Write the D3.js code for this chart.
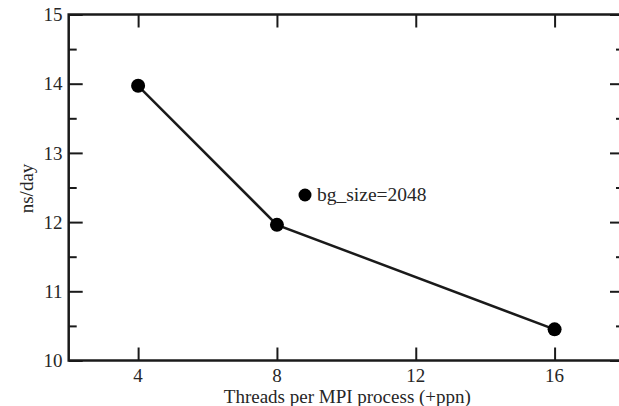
<!DOCTYPE html>
<html>
<head>
<meta charset="utf-8">
<script src="https://cdn.jsdelivr.net/npm/d3@7"></script>
<style>
  html, body { margin: 0; padding: 0; background: #fff; }
  svg { display: block; }
  text { font-family: "Liberation Serif", "DejaVu Serif", serif; fill: #262626; }
</style>
</head>
<body>
<svg id="chart" width="619" height="406"></svg>
<script>
const threads = [4, 8, 16];
const nsPerDay = [13.97, 11.96, 10.45];
const xTicks = [4, 8, 12, 16];
const yTicks = [10, 11, 12, 13, 14, 15];
const yMinorTicks = [10.5, 11.5, 12.5, 13.5, 14.5];
const seriesName = "bg_size=2048";
const xTitle = "Threads per MPI process (+ppn)";
const yTitle = "ns/day";

const svg = d3.select("#chart");
const L = 68.7, R = 624, T = 14.5, B = 360.5;
const x = d3.scaleLinear().domain([2, 18]).range([L, R]);
const y = d3.scaleLinear().domain([10, 15]).range([B, T]);

const ink = "#1a1a1a";
const majorLen = 13, minorLen = 8;

function styleAxis(g) {
  g.select(".domain").remove();
  g.selectAll(".tick line").attr("stroke", ink).attr("stroke-width", 2);
  g.selectAll(".tick text").remove();
}
svg.append("g").attr("transform", `translate(0,${B})`)
  .call(d3.axisTop(x).tickValues(xTicks).tickSize(majorLen)).call(styleAxis);
svg.append("g").attr("transform", `translate(0,${T})`)
  .call(d3.axisBottom(x).tickValues(xTicks).tickSize(majorLen)).call(styleAxis);
svg.append("g").attr("transform", `translate(${L},0)`)
  .call(d3.axisRight(y).tickValues(yTicks).tickSize(majorLen + 1)).call(styleAxis);
svg.append("g").attr("transform", `translate(${L},0)`)
  .call(d3.axisRight(y).tickValues(yMinorTicks).tickSize(minorLen)).call(styleAxis);
svg.append("g").attr("transform", `translate(${R},0)`)
  .call(d3.axisLeft(y).tickValues(yTicks).tickSize(majorLen + 1)).call(styleAxis);
svg.append("g").attr("transform", `translate(${R},0)`)
  .call(d3.axisLeft(y).tickValues(yMinorTicks).tickSize(minorLen)).call(styleAxis);

svg.append("rect").attr("x", L).attr("y", T).attr("width", R - L).attr("height", B - T)
  .attr("fill", "none").attr("stroke", ink).attr("stroke-width", 2.5);

svg.append("g").selectAll("text").data(xTicks).join("text")
  .attr("x", d => x(d)).attr("y", 381.5)
  .attr("text-anchor", "middle").attr("font-size", 19).text(d => d);
svg.append("g").selectAll("text").data(yTicks).join("text")
  .attr("x", 62.5).attr("y", d => y(d)).attr("dy", "0.35em")
  .attr("text-anchor", "end").attr("font-size", 19).text(d => d);

svg.append("text").attr("x", (L + R) / 2 + 1).attr("y", 403)
  .attr("text-anchor", "middle").attr("font-size", 19).text(xTitle);
svg.append("text").attr("transform", `translate(33,${(T + B) / 2 + 1}) rotate(-90)`)
  .attr("text-anchor", "middle").attr("font-size", 19).text(yTitle);

const pts = threads.map((t, i) => [t, nsPerDay[i]]);
svg.append("path").datum(pts)
  .attr("fill", "none").attr("stroke", ink).attr("stroke-width", 2.5)
  .attr("d", d3.line().x(d => x(d[0])).y(d => y(d[1])));
svg.append("g").selectAll("circle").data(pts).join("circle")
  .attr("cx", d => x(d[0])).attr("cy", d => y(d[1])).attr("r", 7).attr("fill", "#000");

const lg = svg.append("g").attr("transform", "translate(305,195)");
lg.append("circle").attr("r", 6.5).attr("fill", "#000");
lg.append("text").attr("x", 12).attr("y", 0).attr("dy", "0.33em")
  .attr("font-size", 19.5).text(seriesName);
</script>
</body>
</html>
